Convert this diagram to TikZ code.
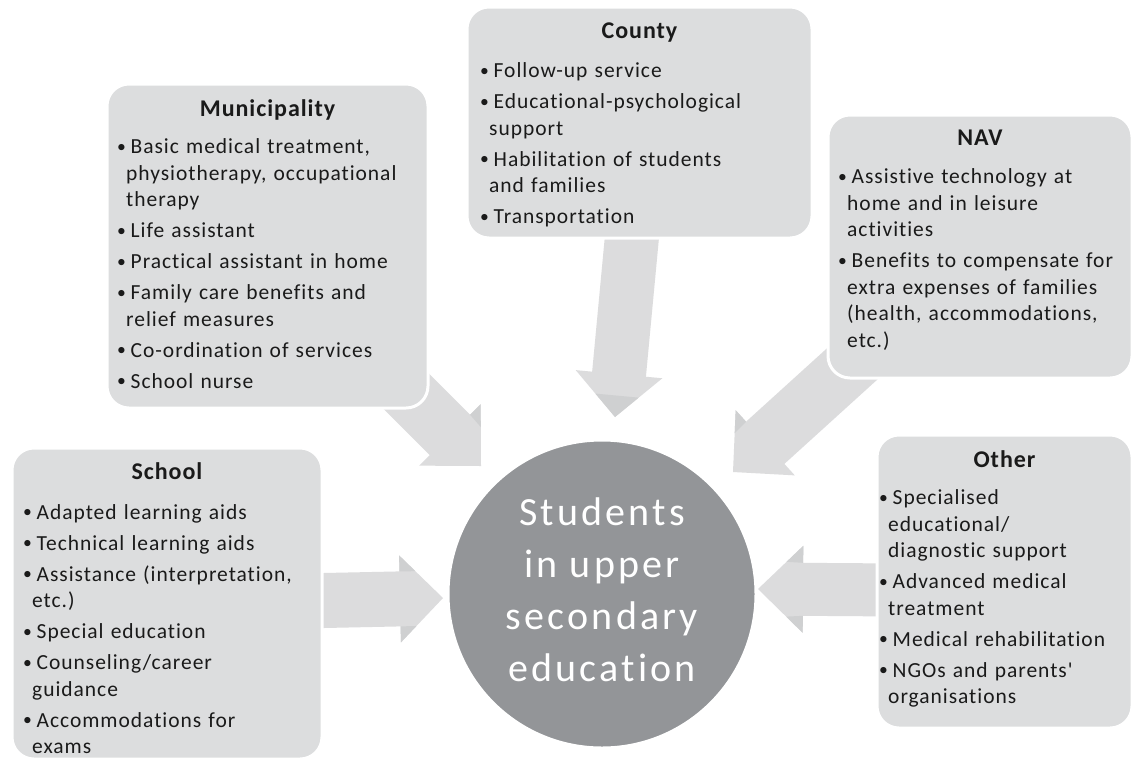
\documentclass[tikz,border=0pt]{standalone}
\usepackage{fontspec}
\setmainfont[Ligatures=NoCommon]{Carlito}
\newfontfamily\bodyfont[LetterSpace=4.5,Ligatures=NoCommon]{Carlito}
\newfontfamily\headfont[LetterSpace=4,Ligatures=NoCommon]{Carlito}
\newfontfamily\circfont[LetterSpace=8,Ligatures=NoCommon]{Carlito}
\usetikzlibrary{calc}
\definecolor{boxgray}{HTML}{DCDDDE}
\definecolor{arrgray}{HTML}{DCDCDD}
\definecolor{arrdark}{HTML}{CFD0D1}
\definecolor{circgray}{HTML}{939598}
\definecolor{inkc}{HTML}{1A1A1A}
\newcommand\blst{\setlength\parskip{4.5pt}\setlength\parindent{0pt}}
\newcommand\bitem[1]{\par\hangindent=9pt\hangafter=1\noindent\strut\makebox[13.5pt][l]{\raisebox{1.3pt}{\scalebox{0.82}{\textbullet}}}#1}
% #1 prefix, #2 start, #3 tip, #4 half shaft, #5 half head, #6 head length
\newcommand\blockarrow[6]{%
  \coordinate (#1B) at ($(#3)!#6!(#2)$);
  \coordinate (#1s1) at ($(#2)!#4!90:(#3)$);
  \coordinate (#1s2) at ($(#2)!#4!-90:(#3)$);
  \coordinate (#1b1) at ($(#1B)!#4!90:(#3)$);
  \coordinate (#1b2) at ($(#1B)!#4!-90:(#3)$);
  \coordinate (#1h1) at ($(#1B)!#5!90:(#3)$);
  \coordinate (#1h2) at ($(#1B)!#5!-90:(#3)$);
  \fill[arrowfill] (#1s1) -- (#1b1) -- (#1h1) -- (#3) -- (#1h2) -- (#1b2) -- (#1s2) -- cycle;
}
\newcommand\arrwing[3]{\fill[wingfill] (#1b#2) -- (#1h#2) -- ($(#1h#2)!0.37!(#3)$) -- cycle;}
\begin{document}
\begin{tikzpicture}[x=1pt,y=-1pt,
  arrowfill/.style={fill=arrgray},
  wingfill/.style={fill=arrdark},
  box/.style={rectangle, rounded corners=22pt, fill=boxgray, draw=white, line width=3pt, inner sep=0pt},
  head/.style={anchor=base, inner sep=0pt, font=\headfont\bfseries\fontsize{24}{28}\selectfont, text=inkc},
  blist/.style={anchor=north west, inner sep=0pt, text width=400pt, align=left, font=\bodyfont\fontsize{21.5}{26.5}\selectfont, text=inkc},
  circ/.style={circle, minimum size=308pt, fill=circgray, draw=white, line width=3pt, inner sep=0pt},
  circtext/.style={inner sep=0pt, align=center, text=white, font=\circfont\fontsize{40}{52}\selectfont}]
\useasboundingbox (0,0) rectangle (1131,761);
\fill[white] (0,0) rectangle (1131,761);

% arrow end points
\coordinate (schS) at (300,601);  \coordinate (schT) at (443,598);
\coordinate (othS) at (900,590);  \coordinate (othT) at (758,589);
\coordinate (ctyS) at (634,215);  \coordinate (ctyT) at (615,417);
\coordinate (munS) at (291,276);  \coordinate (munT) at (481,466);
\coordinate (navS) at (905,316);  \coordinate (navT) at (733,472);

\blockarrow{scha}{schS}{schT}{27.5pt}{43.5pt}{43pt}
\arrwing{scha}{1}{schT}\arrwing{scha}{2}{schT}
\blockarrow{otha}{othS}{othT}{26.5pt}{43.5pt}{45pt}
\arrwing{otha}{1}{othT}\arrwing{otha}{2}{othT}
\blockarrow{ctya}{ctyS}{ctyT}{27pt}{43.5pt}{43pt}
\fill[wingfill] ($(ctyah1)!0.5!(ctyT)$) -- (ctyT) -- ($(ctyah2)!0.5!(ctyT)$) -- cycle;
\blockarrow{muna}{munS}{munT}{28.5pt}{43.5pt}{44pt}
\arrwing{muna}{1}{munT}
\blockarrow{nava}{navS}{navT}{28.5pt}{44pt}{43.5pt}
\arrwing{nava}{2}{navT}

% boxes
\node[box, minimum width=310pt, minimum height=311pt] (school) at (167,603.5) {};
\node[box, minimum width=321pt, minimum height=324pt] (muni) at (267.5,246) {};
\node[box, minimum width=345pt, minimum height=231pt] (county) at (639.5,122.5) {};
\node[box, minimum width=304pt, minimum height=263pt] (nav) at (980,246.5) {};
\node[box, minimum width=255pt, minimum height=293pt] (other) at (1004.5,581.5) {};

% centre
\node[circ] (stud) at (602,594) {};
\node[circtext] (studT) at (602,590) {Students\\in upper\\secondary\\education};

% headings
\node[head] (schoolH) at (167,479) {School};
\node[head] (muniH) at (267.5,116) {Municipality};
\node[head] (countyH) at (639.5,38) {County};
\node[head] (navH) at (980,145) {NAV};
\node[head] (otherH) at (1004.5,467) {Other};

% lists
\node[blist] (schoolL) at (23,488) {\blst
\bitem{Adapted learning aids}
\bitem{Technical learning aids}
\bitem{Assistance (interpretation,\newline etc.)}
\bitem{Special education}
\bitem{Counseling/career\newline guidance}
\bitem{Accommodations for\newline exams}\par};
\node[blist] (muniL) at (117,122.5) {\blst
\bitem{Basic medical treatment,\newline physiotherapy, occupational\newline therapy}
\bitem{Life assistant}
\bitem{Practical assistant in home}
\bitem{Family care benefits and\newline relief measures}
\bitem{Co-ordination of services}
\bitem{School nurse}\par};
\node[blist] (countyL) at (480,46.5) {\blst
\bitem{Follow-up service}
\bitem{Educational-psychological\newline support}
\bitem{Habilitation of students\newline and families}
\bitem{Transportation}\par};
\node[blist] (navL) at (838,152.5) {\blst
\bitem{Assistive technology at\newline home and in leisure\newline activities}
\bitem{Benefits to compensate for\newline extra expenses of families\newline (health, accommodations,\newline etc.)}\par};
\node[blist] (otherL) at (879,473.5) {\blst
\bitem{Specialised\newline educational/\newline diagnostic support}
\bitem{Advanced medical\newline treatment}
\bitem{Medical rehabilitation}
\bitem{NGOs and parents'\newline organisations}\par};
\end{tikzpicture}
\end{document}
